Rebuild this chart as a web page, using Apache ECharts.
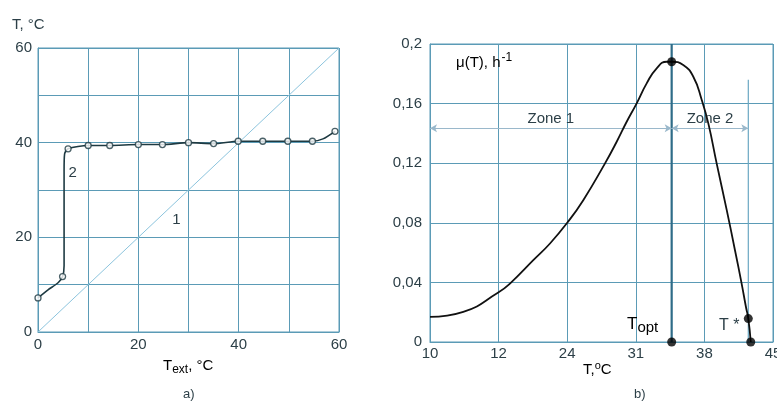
<!DOCTYPE html>
<html>
<head>
<meta charset="utf-8">
<script src="https://cdn.jsdelivr.net/npm/echarts@6/dist/echarts.min.js"></script>
<style>
html,body{margin:0;padding:0;background:#fff;}
#chart{width:777px;height:403px;}
</style>
</head>
<body>
<div id="chart"></div>
<script>
// ---- Panel a) ----
const leftTickLabels = [0, 20, 40, 60];
const line1 = [[0, 0], [60, 60]];
const curve2Markers = [[0, 7.2], [4.9, 11.7], [6.0, 38.7], [10, 39.4], [14.3, 39.4], [20, 39.6], [24.8, 39.6], [30, 40.0], [35, 39.8], [39.9, 40.3], [44.8, 40.3], [49.8, 40.3], [54.7, 40.3], [59.2, 42.4]];
const curve2Path = [[0, 7.2], [2, 8.9], [4, 10.4], [4.9, 11.7], [5.2, 14], [5.2, 24], [5.2, 34], [5.3, 37.6], [6.0, 38.7], [10, 39.4], [14.3, 39.4], [20, 39.6], [24.8, 39.6], [30, 40.0], [35, 39.8], [39.9, 40.3], [44.8, 40.3], [49.8, 40.3], [54.7, 40.3], [56.8, 40.8], [59.2, 42.4]];

// ---- Panel b) ----
const xTickValues = [10, 12, 24, 31, 38, 45];
const xTickLabels = ['10', '12', '24', '31', '38', '45'];
const yTickValues = [0, 0.04, 0.08, 0.12, 0.16, 0.2];
const muT = [10, 10.97, 11.99, 13.99, 18.07, 20.99, 24.0, 25.64, 27.86, 29.05, 30.07, 31.09, 32.11, 33.13, 34.15, 34.66, 35.84, 36.87, 37.73, 38.40, 39.25, 40.28, 41.12, 41.80, 42.24, 42.48, 42.73];
const muV = [0.0168, 0.0202, 0.0332, 0.0392, 0.0549, 0.0661, 0.0800, 0.0952, 0.1199, 0.1344, 0.1478, 0.1602, 0.1736, 0.1837, 0.1881, 0.1881, 0.1859, 0.1780, 0.1624, 0.1467, 0.1199, 0.0885, 0.0616, 0.0392, 0.0235, 0.0157, 0];
const Topt = 34.66;
const muMax = 0.1881;
const Tstar = 42.48;
const muTstar = 0.0157;
const TstarEnd = 42.73;
const TstarLineTop = 0.176;
const zoneLevel = 0.1434;

function pos(t) {
  for (let i = 0; i < xTickValues.length - 1; i++) {
    if (t <= xTickValues[i + 1]) {
      return i + (t - xTickValues[i]) / (xTickValues[i + 1] - xTickValues[i]);
    }
  }
  return xTickValues.length - 1;
}
const P = d => [pos(d[0]), d[1]];
const muCurve = muT.map((t, i) => [t, muV[i]]);

const gridColor = '#5b9bb6';
const textColor = '#2c3f47';
const fontFam = '"Liberation Sans", Arial, sans-serif';

const chart = echarts.init(document.getElementById('chart'), null, {renderer: 'canvas'});

const option = {
  animation: false,
  textStyle: {fontFamily: fontFam},
  grid: [
    {left: 38, top: 48, width: 301, height: 284, show: true, borderColor: gridColor, borderWidth: 1, containLabel: false, outerBoundsMode: 'none'},
    {left: 430, top: 44, width: 343, height: 298, show: true, borderColor: gridColor, borderWidth: 1, containLabel: false, outerBoundsMode: 'none'}
  ],
  xAxis: [
    {
      type: 'value', gridIndex: 0, min: 0, max: 60, interval: 10,
      axisLine: {show: true, lineStyle: {color: gridColor}}, axisTick: {show: false},
      splitLine: {show: true, lineStyle: {color: gridColor, width: 1}},
      axisLabel: {margin: 5, fontSize: 15, color: textColor, fontFamily: fontFam,
        formatter: v => leftTickLabels.indexOf(v) >= 0 ? String(v) : ''}
    },
    {
      type: 'value', gridIndex: 1, min: 0, max: xTickLabels.length - 1, interval: 1,
      axisLine: {show: true, lineStyle: {color: gridColor}}, axisTick: {show: false},
      splitLine: {show: true, lineStyle: {color: gridColor, width: 1}},
      axisLabel: {margin: 4, fontSize: 15, color: textColor, fontFamily: fontFam,
        formatter: v => xTickLabels[Math.round(v)]}
    }
  ],
  yAxis: [
    {
      type: 'value', gridIndex: 0, min: 0, max: 60, interval: 10,
      axisLine: {show: true, lineStyle: {color: gridColor}}, axisTick: {show: false},
      splitLine: {show: true, lineStyle: {color: gridColor, width: 1}},
      axisLabel: {margin: 6, fontSize: 15, color: textColor, fontFamily: fontFam,
        formatter: v => leftTickLabels.indexOf(v) >= 0 ? String(v) : ''}
    },
    {
      type: 'value', gridIndex: 1, min: 0, max: 0.2, interval: 0.04,
      axisLine: {show: true, lineStyle: {color: gridColor}}, axisTick: {show: false},
      splitLine: {show: true, lineStyle: {color: gridColor, width: 1}},
      axisLabel: {margin: 8, fontSize: 15, color: textColor, fontFamily: fontFam,
        formatter: v => {
          const idx = yTickValues.findIndex(t => Math.abs(t - v) < 1e-9);
          return idx >= 0 ? String(+yTickValues[idx].toFixed(2)).replace('.', ',') : '';
        }}
    }
  ],
  series: [
    {
      type: 'line', xAxisIndex: 0, yAxisIndex: 0, data: line1, symbol: 'none',
      lineStyle: {color: '#8cc4dd', width: 1}, z: 3
    },
    {
      type: 'line', xAxisIndex: 0, yAxisIndex: 0, data: curve2Path, symbol: 'none', smooth: 0.25,
      lineStyle: {color: '#1e3a42', width: 1.6}, z: 4
    },
    {
      type: 'scatter', xAxisIndex: 0, yAxisIndex: 0, data: curve2Markers, symbol: 'circle', symbolSize: 6,
      itemStyle: {color: '#fff', borderColor: '#1e3a42', borderWidth: 1.3}, z: 5
    },
    {
      type: 'line', xAxisIndex: 1, yAxisIndex: 1, data: muCurve.map(P), symbol: 'none', smooth: 0.5,
      lineStyle: {color: '#111', width: 1.8}, z: 5
    },
    {
      type: 'line', xAxisIndex: 1, yAxisIndex: 1, data: [[Topt, 0], [Topt, 0.2]].map(P), symbol: 'none',
      lineStyle: {color: '#2f6c88', width: 2.2}, z: 4,
      markLine: {
        silent: true, symbol: ['arrow', 'arrow'], symbolSize: [6, 7], precision: 4,
        lineStyle: {color: '#9ab8cb', width: 1, type: 'solid'},
        label: {show: true, position: 'insideMiddleTop', distance: 2, formatter: '{b}',
          fontSize: 15, color: textColor, fontFamily: fontFam},
        data: [
          [{name: 'Zone 1', coord: P([xTickValues[0], zoneLevel])}, {coord: P([Topt, zoneLevel])}],
          [{name: 'Zone 2', coord: P([Topt, zoneLevel])}, {coord: P([Tstar, zoneLevel])}]
        ]
      }
    },
    {
      type: 'line', xAxisIndex: 1, yAxisIndex: 1, data: [[Tstar, 0], [Tstar, TstarLineTop]].map(P), symbol: 'none',
      lineStyle: {color: '#6aa7c3', width: 1.2}, z: 4
    },
    {
      type: 'scatter', xAxisIndex: 1, yAxisIndex: 1,
      data: [[Topt, muMax], [Topt, 0], [Tstar, muTstar], [TstarEnd, 0]].map(P),
      symbol: 'circle', symbolSize: 9, itemStyle: {color: '#000'}, z: 6
    }
  ]
};
chart.setOption(option);

const tp = (gi, pt) => chart.convertToPixel({gridIndex: gi}, pt);
const p2 = tp(0, [6.9, 33.7]);
const p1 = tp(0, [27.6, 23.6]);

chart.setOption({
  graphic: [
    {type: 'text', left: 12, top: 17, style: {text: 'T, °C', font: '15px ' + fontFam, fill: textColor}},
    {type: 'text', x: p2[0], y: p2[1], style: {text: '2', font: '15px ' + fontFam, fill: textColor, textAlign: 'center', textVerticalAlign: 'middle'}},
    {type: 'text', x: p1[0], y: p1[1], style: {text: '1', font: '15px ' + fontFam, fill: textColor, textAlign: 'center', textVerticalAlign: 'middle'}},
    {type: 'text', left: 163, top: 358, style: {
      rich: {n: {fontSize: 15, fontFamily: fontFam, color: textColor}, s: {fontSize: 12, fontFamily: fontFam, color: textColor, padding: [8, 0, 0, 0]}},
      text: '{n|T}{s|ext}{n|, °C}'}},
    {type: 'text', left: 183, top: 388, style: {text: 'a)', font: '13px ' + fontFam, fill: textColor}},
    {type: 'text', left: 456, top: 52, style: {
      rich: {n: {fontSize: 15, fontFamily: fontFam, color: textColor}, s: {fontSize: 12, fontFamily: fontFam, color: textColor, padding: [0, 0, 9, 1]}},
      text: '{n|μ(T), h}{s|-1}'}},
    {type: 'text', left: 583, top: 360, style: {
      rich: {n: {fontSize: 15, fontFamily: fontFam, color: textColor}, s: {fontSize: 11, fontFamily: fontFam, color: textColor, padding: [0, 0, 9, 0]}},
      text: '{n|T,}{s|o}{n|C}'}},
    {type: 'text', left: 627, top: 316, style: {
      rich: {n: {fontSize: 17, fontFamily: fontFam, color: textColor}, s: {fontSize: 15, fontFamily: fontFam, color: textColor, padding: [7, 0, 0, 0]}},
      text: '{n|T}{s|opt}'}},
    {type: 'text', left: 719, top: 318, style: {text: 'T *', font: '16px ' + fontFam, fill: textColor}},
    {type: 'text', left: 634, top: 388, style: {text: 'b)', font: '13px ' + fontFam, fill: textColor}}
  ]
});
</script>
</body>
</html>
